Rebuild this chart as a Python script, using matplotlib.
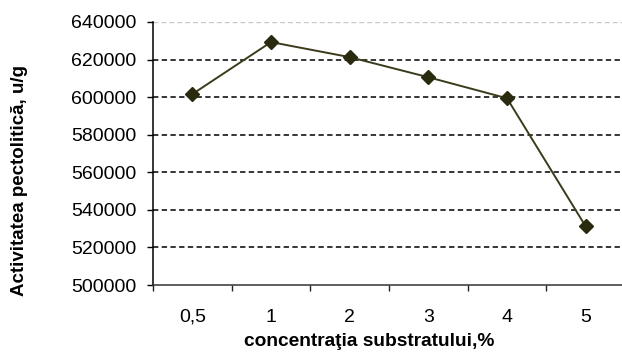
import matplotlib
matplotlib.use("Agg")
import matplotlib.pyplot as plt
import numpy as np

# date
categorii = ["0,5", "1", "2", "3", "4", "5"]
activitate = [601600, 629300, 621300, 610600, 599400, 531200]

plt.rcParams["font.family"] = ["Liberation Sans", "DejaVu Sans"]

W, H = 622, 356
fig = plt.figure(figsize=(W / 100, H / 100), dpi=100)
ax = fig.add_axes([153 / W, 1 - 285 / H, (625 - 153) / W, (285 - 22) / H])

x = np.arange(len(categorii))
ax.plot(x, activitate, color="#3b3b1c", lw=1.4, marker="D", ms=7,
        mfc="#2a2a0e", mec="#2a2a0e", zorder=3)

ax.set_xlim(-0.5, len(categorii) - 0.5)
ax.set_ylim(500000, 640000)
yt = np.arange(500000, 640001, 20000)
ax.set_yticks(yt)
ax.set_yticklabels([str(v) for v in yt], fontsize=14)
ax.set_xticks(x)
ax.set_xticklabels(categorii, fontsize=14)
ax.set_xticks(np.arange(-0.5, len(categorii)), minor=True)
ax.tick_params(axis="x", which="major", length=0, pad=17)
ax.tick_params(axis="x", which="minor", length=4, width=1, direction="out", color="#222222")
ax.tick_params(axis="y", length=4, width=1, direction="out", pad=8)

for v in yt[1:-1]:
    ax.axhline(v, color="black", lw=1.1, ls=(0, (3.5, 2.2)), zorder=1)
ax.axhline(yt[-1], color="#c8c8c8", lw=1.0, ls=(0, (3.5, 2.2)), zorder=1)

for s in ["top", "right"]:
    ax.spines[s].set_visible(False)
ax.spines["left"].set_color("black")
ax.spines["bottom"].set_color("#333333")
ax.spines["left"].set_linewidth(1.1)
ax.spines["bottom"].set_linewidth(1.1)

fig.text(20 / W, 1 - 181 / H, "Activitatea pectolitică, u/g", rotation=90,
         ha="center", va="center", fontsize=13.5, fontweight="bold")
fig.text(369 / W, 1 - 341 / H, "concentraţia substratului,%",
         ha="center", va="center", fontsize=13.8, fontweight="bold")

fig.savefig("out.png", dpi=100)
